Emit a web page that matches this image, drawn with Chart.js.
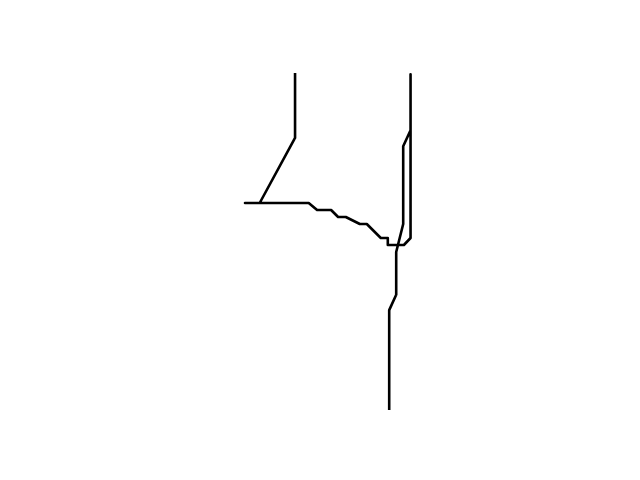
<!DOCTYPE html>
<html>
<head>
<meta charset="utf-8">
<script src="https://cdn.jsdelivr.net/npm/chart.js@4/dist/chart.umd.min.js"></script>
<style>
html,body{margin:0;padding:0;background:#fff;}
#wrap{width:640px;height:480px;}
</style>
</head>
<body>
<div id="wrap"><canvas id="c" width="640" height="480"></canvas></div>
<script>
// path (x, y in data units)
const xValues = [7.15, 7.15, 2.1, 0, 2.1, 9.1, 10.3, 12.3, 13.3, 14.4, 16.4, 17.4, 19.4, 20.4, 20.4, 22.7, 23.65, 23.65, 23.65, 22.6, 22.6, 21.6, 21.6, 20.6, 20.6];
const yValues = [48.4, 39.3, 30, 30, 30, 30, 29, 29, 28, 28, 27, 27, 25, 25, 24, 24, 25, 48.4, 40.4, 38.1, 27, 23, 16.9, 14.7, 0.6];

const points = xValues.map((x, i) => ({x: x, y: yValues[i]}));

new Chart(document.getElementById('c'), {
  type: 'scatter',
  data: {
    datasets: [{
      data: points,
      showLine: true,
      borderColor: '#000000',
      backgroundColor: '#000000',
      borderWidth: 2.6,
      pointRadius: 0,
      tension: 0,
      borderJoinStyle: 'round',
      borderCapStyle: 'square',
      fill: false
    }]
  },
  options: {
    responsive: false,
    animation: false,
    layout: {padding: 0},
    plugins: {legend: {display: false}, tooltip: {enabled: false}},
    scales: {
      x: {type: 'linear', display: false, min: -35, max: 395/7},
      y: {type: 'linear', display: false, min: -67/7, max: 59}
    }
  }
});
</script>
</body>
</html>
